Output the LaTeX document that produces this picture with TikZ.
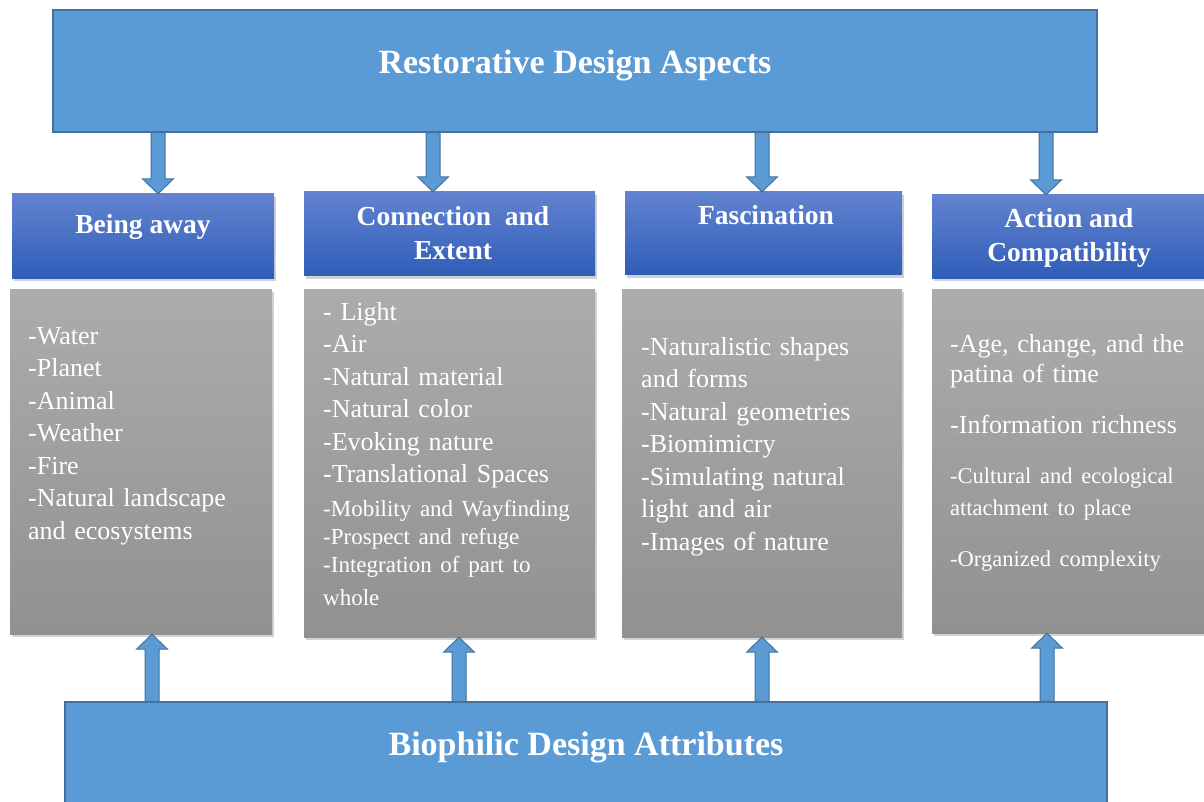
\documentclass[tikz,border=0pt]{standalone}
\usepackage{fontspec}
\setmainfont{Liberation Serif}
\usetikzlibrary{positioning}
\usetikzlibrary{calc}
\usetikzlibrary{shadows}
\setlength{\parindent}{0pt}
\setlength{\parskip}{0pt}

\definecolor{boxblue}{RGB}{91,155,213}
\definecolor{boxline}{RGB}{65,113,156}
\definecolor{hdrtop}{RGB}{98,131,207}
\definecolor{hdrbot}{RGB}{47,93,184}
\definecolor{grytop}{RGB}{172,172,172}
\definecolor{grybot}{RGB}{145,145,145}

\tikzset{
  mainbox/.style={draw=boxline, fill=boxblue, line width=1.2pt, inner sep=0pt},
  hdrbox/.style={top color=hdrtop, bottom color=hdrbot, inner sep=0pt,
    drop shadow={shadow xshift=1.5pt, shadow yshift=-3pt, opacity=0.35}},
  listbox/.style={top color=grytop, bottom color=grybot, inner sep=0pt,
    drop shadow={shadow xshift=1.5pt, shadow yshift=-3pt, opacity=0.35}},
  maintitle/.style={text=white, inner sep=0pt, anchor=base,
    font=\fontsize{34}{40}\selectfont\bfseries},
  hdrtitle/.style={text=white, inner sep=0pt, anchor=north, align=center,
    font=\fontsize{27.5}{34.5}\selectfont\bfseries},
  listtext/.style={text=white, inner sep=0pt, anchor=north west, text width=265pt,
    align=left, font=\fontsize{26}{32.5}\selectfont},
  blkarrow/.style={draw=boxline, fill=boxblue, line width=1pt, line join=miter},
}

% block arrow from #1 to #2
\newcommand{\blockarrow}[2]{%
  \coordinate (bs) at (#1);
  \coordinate (bt) at (#2);
  \coordinate (bh) at ($(bt)!15pt!(bs)$);
  \draw[blkarrow] ($(bs)!7pt!90:(bt)$) -- ($(bh)!7pt!90:(bt)$) -- ($(bh)!15.5pt!90:(bt)$)
    -- (bt) -- ($(bh)!15.5pt!-90:(bt)$) -- ($(bh)!7pt!-90:(bt)$) -- ($(bs)!7pt!-90:(bt)$) -- cycle;
}

\begin{document}
\begin{tikzpicture}[x=1pt,y=-1pt]
\useasboundingbox (0,0) rectangle (1204,802);
\clip (0,0) rectangle (1204,802);
\fill[white] (0,0) rectangle (1204,802);

% top and bottom
\node[mainbox, minimum width=1044pt, minimum height=122pt] (top) at (575,71) {};
\node[maintitle] (topT) at (575,74) {Restorative Design Aspects};
\node[mainbox, minimum width=1042pt, minimum height=110pt] (base) at (586,757) {};
\node[maintitle] (baseT) at (586,755) {Biophilic Design Attributes};

% headers
\node[hdrbox, minimum width=262pt, minimum height=84pt] (away) at (143,236) {};
\node[hdrbox, minimum width=291pt, minimum height=84pt] (conn) at (449.5,234) {};
\node[hdrbox, minimum width=277pt, minimum height=83pt] (fasc) at (763.5,233.5) {};
\node[hdrbox, minimum width=273pt, minimum height=83pt] (act) at (1068.5,236.5) {};

\node[hdrtitle] (awayT) at (143,214) {Being away};
\node[hdrtitle] (connT) at (453,206) {Connection\ \ and\\Extent};
\node[hdrtitle] (fascT) at (766,205) {Fascination};
\node[hdrtitle] (actT) at (1069,208) {Action and\\Compatibility};

% lists
\node[listbox, minimum width=262pt, minimum height=345pt] (awayL) at (141,461.5) {};
\node[listbox, minimum width=291pt, minimum height=348pt] (connL) at (449.5,463) {};
\node[listbox, minimum width=280pt, minimum height=348pt] (fascL) at (762,463) {};
\node[listbox, minimum width=273pt, minimum height=344pt] (actL) at (1068.5,461) {};

\node[listtext] (awayX) at (28,327) {-Water\par -Planet\par -Animal\par -Weather\par -Fire\par
  -Natural landscape\par and ecosystems};
\node[listtext] (connX) at (323,302) {- Light\par -Air\par -Natural material\par -Natural color\par
  -Evoking nature\par -Translational Spaces\par
  \vspace{6pt}\fontsize{23}{28}\selectfont -Mobility and Wayfinding\par -Prospect and refuge\par
  -Integration of part to\par whole};
\node[listtext] (fascX) at (641,337) {-Naturalistic shapes\par and forms\par -Natural geometries\par
  -Biomimicry\par -Simulating natural\par light and air\par -Images of nature};
\node[listtext] (actX) at (950,334) {\fontsize{26}{30}\selectfont -Age, change, and the\par
  patina of time\par \vspace{21pt} -Information richness\par
  \vspace{18pt}\fontsize{22.5}{32}\selectfont -Cultural and ecological\par attachment to place\par
  \vspace{19pt} -Organized complexity};

% arrows
\coordinate (dnA) at (158,0);
\coordinate (dnB) at (433,0);
\coordinate (dnC) at (762,0);
\coordinate (dnD) at (1046,0);
\coordinate (upA) at (152,0);
\coordinate (upB) at (459,0);
\coordinate (upC) at (762,0);
\coordinate (upD) at (1047,0);

\blockarrow{top.south -| dnA}{away.north -| dnA}
\blockarrow{top.south -| dnB}{conn.north -| dnB}
\blockarrow{top.south -| dnC}{fasc.north -| dnC}
\blockarrow{top.south -| dnD}{act.north -| dnD}
\blockarrow{base.north -| upA}{awayL.south -| upA}
\blockarrow{base.north -| upB}{connL.south -| upB}
\blockarrow{base.north -| upC}{fascL.south -| upC}
\blockarrow{base.north -| upD}{actL.south -| upD}
\end{tikzpicture}
\end{document}
